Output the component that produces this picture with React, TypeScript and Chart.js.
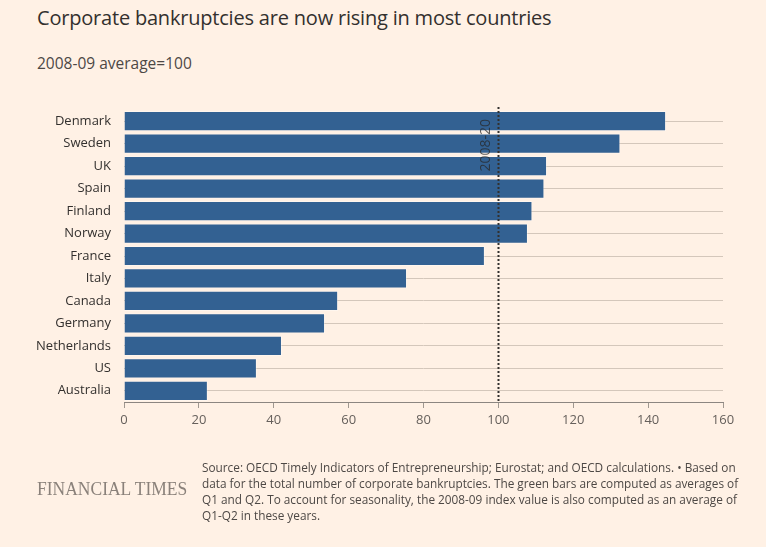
import React, { useEffect, useRef } from "react";
import { Chart, registerables } from "chart.js";

Chart.register(...registerables);

const categories = ["Denmark", "Sweden", "UK", "Spain", "Finland", "Norway", "France", "Italy", "Canada", "Germany", "Netherlands", "US", "Australia"];
const values = [144.8, 132.6, 113.0, 112.3, 109.1, 107.9, 96.4, 75.6, 57.2, 53.7, 42.2, 35.5, 22.4];
const xTicks = [0, 20, 40, 60, 80, 100, 120, 140, 160];
const refValue = 100;
const refLabel = "2008-20";

const FONT = "'Open Sans', 'Noto Sans', sans-serif";

const refLinePlugin = {
  id: "refLine",
  afterDatasetsDraw(chart: any) {
    const { ctx, scales, chartArea } = chart;
    const x = Math.round(scales.x.getPixelForValue(refValue)) + 0.5;
    ctx.save();
    ctx.strokeStyle = "#33302e";
    ctx.lineWidth = 2;
    ctx.setLineDash([2, 2]);
    ctx.beginPath();
    ctx.moveTo(x, chartArea.top - 3);
    ctx.lineTo(x, chartArea.bottom);
    ctx.stroke();
    ctx.setLineDash([]);
    ctx.translate(x - 5, chartArea.top + 9);
    ctx.rotate(-Math.PI / 2);
    ctx.fillStyle = "rgba(40,40,40,0.75)";
    ctx.font = `14px ${FONT}`;
    ctx.textAlign = "right";
    ctx.textBaseline = "bottom";
    ctx.fillText(refLabel, 0, 0);
    ctx.restore();
  },
};

export default function App() {
  const ref = useRef<HTMLCanvasElement>(null);
  useEffect(() => {
    document.body.style.margin = "0";
    document.body.style.background = "#fff1e5";
    const chart = new Chart(ref.current!, {
      type: "bar",
      data: {
        labels: categories,
        datasets: [
          {
            data: values,
            backgroundColor: "#336192",
            borderColor: "rgba(255,255,255,0.35)",
            borderWidth: 1,
            categoryPercentage: 1,
            barPercentage: 0.9,
          },
        ],
      },
      options: {
        indexAxis: "y",
        animation: false,
        responsive: false,
        maintainAspectRatio: false,
        layout: { padding: { top: 110, right: 43, bottom: 115, left: 0 } },
        plugins: { legend: { display: false }, tooltip: { enabled: false } },
        scales: {
          x: {
            min: 0,
            max: 160,
            afterBuildTicks(scale: any) {
              scale.ticks = xTicks.map((v) => ({ value: v }));
            },
            afterFit(scale: any) {
              scale.height = 30;
            },
            grid: { drawOnChartArea: false, drawTicks: true, tickLength: 6, color: "#a09890" },
            border: { display: true, color: "#8c8681" },
            ticks: { color: "#66605c", font: { size: 13, family: FONT }, padding: 4 },
          },
          y: {
            afterFit(scale: any) {
              scale.width = 124;
            },
            grid: { offset: false, drawTicks: false, color: "#d4c7bb" },
            border: { display: false },
            ticks: { color: "#33302e", font: { size: 13, family: FONT }, padding: 13 },
          },
        },
      },
      plugins: [refLinePlugin],
    });
    return () => chart.destroy();
  }, []);

  return (
    <div style={{ position: "relative", width: 766, height: 547, background: "#fff1e5", overflow: "hidden", fontFamily: FONT }}>
      <div style={{ position: "absolute", left: 37, top: 4, fontSize: 20, color: "#33302e", whiteSpace: "nowrap", letterSpacing: "-0.2px" }}>
        Corporate bankruptcies are now rising in most countries
      </div>
      <div style={{ position: "absolute", left: 37, top: 52, fontSize: 15.5, color: "#4d4845", whiteSpace: "nowrap" }}>
        2008-09 average=100
      </div>
      <canvas ref={ref} width={766} height={547} style={{ position: "absolute", left: 0, top: 0 }} />
      <div style={{ position: "absolute", left: 37, top: 477, fontSize: 17.5, color: "#8a817a", fontFamily: "'Liberation Serif', 'DejaVu Serif', serif", whiteSpace: "nowrap", transform: "scaleY(1.12)", transformOrigin: "left top" }}>
        FINANCIAL TIMES
      </div>
      <div style={{ position: "absolute", left: 202, top: 459, width: 548, fontSize: 11.8, lineHeight: "16px", color: "#4d4845" }}>
        Source: OECD Timely Indicators of Entrepreneurship; Eurostat; and OECD calculations. • Based on data for the total number of corporate bankruptcies. The green bars are computed as averages of Q1 and Q2. To account for seasonality, the 2008-09 index value is also computed as an average of Q1-Q2 in these years.
      </div>
    </div>
  );
}
